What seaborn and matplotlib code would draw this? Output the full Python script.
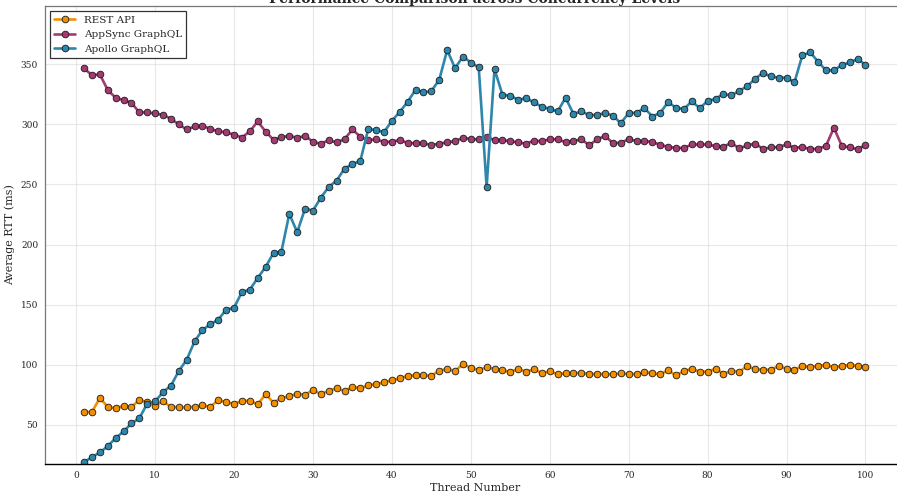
import matplotlib
matplotlib.use("Agg")
import matplotlib.pyplot as plt
import seaborn as sns

threads = list(range(1, 101))

rest_api = [
    60.5, 60.5, 72.5, 64.7, 63.9, 65.5, 64.7, 70.8, 68.9, 65.5,
    69.7, 64.7, 64.7, 64.4, 65.0, 66.1, 65.0, 70.5, 68.9, 67.5,
    69.7, 70.0, 66.9, 75.5, 68.3, 72.2, 73.9, 75.8, 75.0, 78.9,
    75.5, 78.3, 80.5, 78.0, 81.4, 80.5, 82.8, 83.9, 85.3, 87.2,
    88.6, 90.8, 91.1, 91.1, 90.8, 95.0, 96.6, 94.7, 100.6, 97.3,
    95.8, 97.8, 96.6, 95.5, 93.9, 96.6, 94.2, 96.1, 93.0, 94.4,
    92.0, 92.8, 92.8, 93.3, 92.2, 92.2, 92.2, 91.9, 92.8, 92.2,
    92.2, 93.6, 93.0, 91.9, 95.3, 91.1, 94.7, 96.6, 94.2, 94.2,
    96.6, 92.5, 94.7, 94.2, 98.6, 96.4, 95.8, 95.8, 98.9, 96.6,
    95.5, 98.9, 98.0, 99.1, 99.7, 98.0, 98.9, 99.7, 98.9, 98.3,
]

appsync_graphql = [
    346.6, 341.0, 341.6, 328.6, 322.2, 320.3, 318.0, 310.0, 310.0, 309.1,
    308.0, 304.7, 300.0, 295.8, 298.3, 299.1, 296.1, 294.4, 293.3, 291.6,
    289.1, 294.3, 302.5, 294.0, 287.2, 289.4, 290.5, 288.9, 290.5, 285.5,
    283.9, 286.9, 285.0, 287.8, 295.8, 289.7, 286.9, 287.5, 285.5, 285.5,
    287.2, 284.4, 284.4, 284.4, 282.8, 284.1, 285.0, 286.1, 288.9, 287.8,
    287.5, 289.4, 286.9, 287.2, 285.8, 285.2, 283.9, 286.6, 285.8, 287.8,
    287.5, 285.2, 286.4, 287.5, 282.8, 287.5, 290.5, 284.4, 284.7, 287.8,
    286.1, 286.1, 285.5, 283.0, 281.4, 280.4, 280.4, 283.3, 283.3, 283.3,
    281.9, 281.4, 284.7, 280.0, 282.5, 284.1, 279.7, 280.8, 281.1, 283.3,
    280.3, 281.4, 279.4, 279.7, 282.2, 297.2, 282.2, 280.8, 279.4, 282.8,
]

apollo_graphql = [
    18.9, 23.0, 26.9, 32.2, 38.9, 44.4, 51.1, 55.5, 67.5, 69.4,
    77.2, 82.5, 94.7, 104.2, 119.4, 128.9, 133.6, 137.5, 145.8, 147.5,
    160.5, 162.5, 172.2, 181.4, 193.0, 194.2, 225.5, 210.3, 230.0, 228.3,
    239.1, 248.0, 253.3, 263.3, 266.9, 269.7, 296.1, 295.3, 293.6, 303.0,
    310.5, 318.9, 328.9, 326.6, 327.8, 337.2, 361.9, 346.9, 356.5, 351.5,
    347.5, 248.0, 346.1, 324.7, 323.9, 320.5, 321.9, 318.3, 314.7, 313.0,
    310.8, 322.2, 308.9, 310.8, 307.8, 307.8, 309.7, 307.2, 301.1, 309.4,
    309.7, 313.6, 306.6, 309.7, 318.6, 313.8, 312.9, 319.2, 313.6, 319.4,
    321.4, 325.3, 324.1, 328.0, 331.6, 338.0, 342.8, 340.0, 338.9, 338.9,
    335.0, 357.5, 360.0, 352.2, 345.0, 345.0, 349.4, 351.6, 354.4, 349.7,
]

series_names = ["REST API", "AppSync GraphQL", "Apollo GraphQL"]
series_values = [rest_api, appsync_graphql, apollo_graphql]
colors = ["#F18F01", "#A23B72", "#2E86AB"]

x_ticks = list(range(0, 101, 10))
y_ticks = list(range(50, 351, 50))

sns.set_style("whitegrid")
plt.rcParams["font.family"] = ["DejaVu Serif"]

fig = plt.figure(figsize=(8.97, 4.95), dpi=100)
ax = fig.add_axes([0.0502, 0.0626, 0.9582, 0.9253])

for name, vals, col in zip(series_names, series_values, colors):
    sns.lineplot(x=threads, y=vals, ax=ax, label=name, color=col,
                 linewidth=1.9, marker="o", markersize=4.8,
                 markeredgecolor="#1a1a1a", markeredgewidth=0.6,
                 alpha=1.0)

ax.set_xlim(-3.95, 104.95)
ax.set_ylim(17.3, 398.6)
ax.set_xticks(x_ticks)
ax.set_yticks(y_ticks)
ax.tick_params(axis="both", labelsize=6.5, length=3, width=0.8,
               color="#333333", pad=2)
ax.grid(True, color="#d9d9d9", linewidth=0.8, alpha=0.6)

for side in ["left", "top", "right"]:
    ax.spines[side].set_color("#777777")
    ax.spines[side].set_linewidth(0.9)
ax.spines["bottom"].set_color("black")
ax.spines["bottom"].set_linewidth(1.0)

ax.set_xlabel("Thread Number", fontsize=8, labelpad=2)
ax.set_ylabel("Average RTT (ms)", fontsize=8, labelpad=4)
ax.set_title("Performance Comparison across Concurrency Levels",
             fontsize=10, fontweight="bold", pad=2)

leg = ax.legend(loc="upper left", fontsize=7.5, frameon=True,
                fancybox=False, edgecolor="#333333", framealpha=1.0)
leg.get_frame().set_linewidth(0.9)

fig.savefig("out.png", dpi=100)
